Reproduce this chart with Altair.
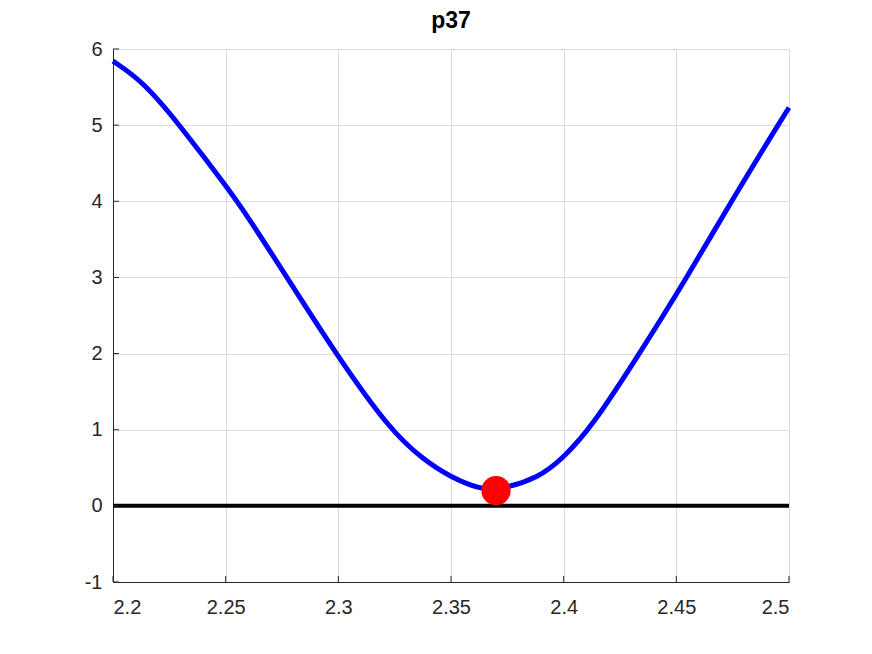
import altair as alt
import pandas as pd

# curve values
xs = [2.2, 2.2133, 2.2296, 2.2429, 2.2555, 2.2772, 2.2988, 2.3228, 2.3376, 2.3502,
      2.3627, 2.37, 2.3894, 2.4, 2.4116, 2.4337, 2.4547, 2.4744, 2.4951, 2.5]
ys = [5.84, 5.575, 5.0, 4.48, 4.0, 3.0, 2.0, 1.0, 0.61, 0.37,
      0.225, 0.2, 0.37, 0.64, 1.0, 2.0, 3.0, 4.0, 5.0, 5.23]

marker_x = [2.37]
marker_y = [0.2]

zero_x = [2.2, 2.5]
zero_y = [0.0, 0.0]

x_ticks = [2.2, 2.25, 2.3, 2.35, 2.4, 2.45, 2.5]
y_ticks = [-1, 0, 1, 2, 3, 4, 5, 6]

W, H = 676, 533

curve = pd.DataFrame({"x": xs, "y": ys})
mk = pd.DataFrame({"x": marker_x, "y": marker_y})
zero = pd.DataFrame({"x": zero_x, "y": zero_y})
xt = pd.DataFrame({"t": x_ticks})
yt = pd.DataFrame({"t": y_ticks})

xscale = alt.Scale(domain=[2.2, 2.5], nice=False, zero=False)
yscale = alt.Scale(domain=[-1, 6], nice=False, zero=False)

common = dict(title=None, grid=True, ticks=False, labelFontSize=20,
              labelColor="#262626", domainColor="#262626", gridColor="#dcdcdc",
              labelFont="Liberation Sans", labelExpr="toString(datum.value)")
xaxis = alt.Axis(values=x_ticks, labelPadding=15, **common)
yaxis = alt.Axis(values=y_ticks, labelPadding=11, **common)

base_line = alt.Chart(zero).mark_line(color="black", strokeWidth=4).encode(
    x=alt.X("x:Q", scale=xscale, axis=xaxis),
    y=alt.Y("y:Q", scale=yscale, axis=yaxis),
)

line = alt.Chart(curve).mark_line(color="#0000ff", strokeWidth=5, interpolate="basis").encode(
    x=alt.X("x:Q", scale=xscale),
    y=alt.Y("y:Q", scale=yscale),
)

point = alt.Chart(mk).mark_point(filled=True, color="#ff0000", size=860, opacity=1, shape="circle").encode(
    x=alt.X("x:Q", scale=xscale),
    y=alt.Y("y:Q", scale=yscale),
)

xtick_marks = alt.Chart(xt).mark_rule(color="#262626", strokeWidth=1).encode(
    x=alt.X("t:Q", scale=xscale),
    y=alt.value(H),
    y2=alt.value(H - 6),
)
ytick_marks = alt.Chart(yt).mark_rule(color="#262626", strokeWidth=1).encode(
    y=alt.Y("t:Q", scale=yscale),
    x=alt.value(0),
    x2=alt.value(6),
)

chart = alt.layer(base_line, line, point, xtick_marks, ytick_marks).properties(
    width=W,
    height=H,
    title=alt.TitleParams("p37", fontSize=23, font="Liberation Sans", fontWeight="bold",
                          color="black", anchor="middle", offset=6),
    autosize=alt.AutoSizeParams(type="none"),
    padding={"left": 105, "top": 41, "right": 60, "bottom": 60},
).configure_view(stroke="#dcdcdc", strokeWidth=1)

chart.save("out.html", embed_options={"renderer": "svg", "actions": False})
